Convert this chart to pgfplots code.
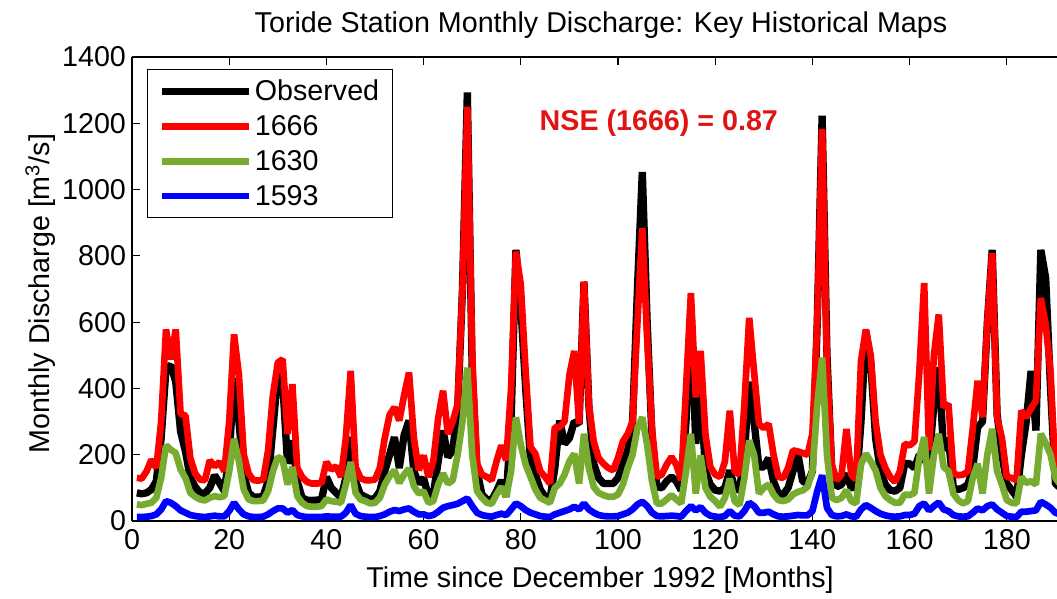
\documentclass[border=0pt]{standalone}
\usepackage{pgfplots}
\usepackage{pgfplotstable}
\pgfplotsset{compat=1.18}
\usepackage{fontspec}
\setmainfont{Liberation Sans}
\definecolor{mgreen}{RGB}{119,172,48}
\definecolor{nsered}{RGB}{225,20,20}
\pgfplotstableread{
m obs r g b
1 85 130 50 12
2 82 128 48 12
3 85 150 52 13
4 95 185 55 15
5 120 160 70 20
6 250 300 130 35
7 460 578 228 60
8 470 488 215 55
9 420 578 205 45
10 270 323 155 32
11 210 318 130 25
12 130 190 85 18
13 103 143 73 15
14 85 125 65 13
15 83 123 62 12
16 100 183 70 14
17 138 165 75 16
18 115 178 72 14
19 90 150 75 14
20 200 300 150 30
21 430 563 248 55
22 300 440 180 35
23 140 200 95 20
24 85 143 65 14
25 72 123 60 12
26 72 122 60 12
27 75 125 62 13
28 120 213 90 20
29 280 380 150 30
30 443 478 193 38
31 420 488 185 38
32 173 263 110 25
33 243 413 163 33
34 120 160 75 18
35 70 133 55 14
36 63 118 45 12
37 62 113 43 12
38 63 113 43 12
39 65 115 45 12
40 133 178 65 14
41 100 155 60 13
42 85 165 58 13
43 70 133 55 13
44 130 250 110 25
45 253 453 178 48
46 120 163 85 22
47 80 130 65 15
48 73 123 60 13
49 65 123 53 12
50 68 125 55 12
51 90 160 70 15
52 150 250 110 20
53 200 320 135 28
54 253 343 153 33
55 160 303 115 30
56 260 380 140 35
57 303 448 158 38
58 150 250 105 28
59 113 153 83 20
60 130 198 90 20
61 73 133 55 15
62 80 180 60 18
63 180 310 110 28
64 273 393 143 40
65 193 263 113 45
66 213 300 123 48
67 333 353 200 52
68 700 700 300 60
69 1293 1250 463 68
70 450 500 200 45
71 150 173 90 25
72 80 140 70 18
73 65 133 55 15
74 63 123 52 13
75 90 180 80 18
76 123 228 103 22
77 73 183 73 18
78 300 400 150 35
79 818 813 313 53
80 650 713 230 45
81 400 450 170 33
82 183 223 133 25
83 140 203 95 20
84 95 150 70 15
85 73 133 62 13
86 65 113 55 12
87 160 283 100 20
88 303 283 113 25
89 233 300 140 30
90 250 440 180 35
91 300 513 203 43
92 293 293 113 35
93 720 723 263 53
94 350 353 160 35
95 173 240 103 25
96 130 190 85 18
97 113 173 78 15
98 113 160 73 14
99 113 153 73 14
100 130 190 80 15
101 170 240 110 20
102 213 263 160 25
103 300 300 200 35
104 700 600 280 50
105 1053 883 313 58
106 600 550 230 45
107 250 280 120 25
108 103 133 53 15
109 100 140 53 14
110 120 170 65 15
111 133 193 78 16
112 120 170 65 15
113 93 123 53 13
114 300 400 150 30
115 650 688 263 45
116 233 373 83 32
117 400 513 198 42
118 150 260 100 25
119 110 163 73 16
120 93 140 60 13
121 90 133 43 12
122 100 180 70 15
123 153 333 128 30
124 100 150 60 16
125 93 140 48 14
126 200 350 130 30
127 420 613 243 55
128 300 450 200 45
129 163 293 83 25
130 163 280 100 25
131 190 293 110 28
132 120 200 80 20
133 83 133 63 14
134 80 130 60 13
135 100 160 65 14
136 150 213 80 16
137 203 210 88 18
138 120 205 92 17
139 113 200 103 17
140 150 263 150 30
141 600 600 350 90
142 1223 1183 493 138
143 500 470 200 40
144 150 170 70 18
145 103 123 63 14
146 110 140 70 15
147 143 278 93 20
148 100 140 60 14
149 103 125 53 13
150 300 483 170 35
151 573 578 203 48
152 480 500 180 40
153 250 300 153 30
154 150 200 100 22
155 110 160 75 17
156 93 133 63 14
157 90 118 55 13
158 100 150 55 14
159 173 233 80 18
160 173 228 78 18
161 160 240 85 22
162 200 450 190 45
163 183 718 253 53
164 183 213 83 32
165 350 500 200 45
166 463 623 263 56
167 213 343 163 35
168 250 353 150 30
169 100 143 83 18
170 95 138 63 14
171 100 140 53 13
172 110 150 60 14
173 160 280 130 25
174 283 423 173 38
175 300 313 83 32
176 600 600 200 45
177 818 808 278 50
178 323 313 150 35
179 200 250 110 25
180 113 133 63 15
181 93 130 55 13
182 73 123 53 12
183 200 333 133 28
184 300 313 115 28
185 453 340 120 30
186 273 363 110 32
187 818 673 263 58
188 733 593 235 50
189 400 450 200 40
190 113 133 130 25
191 100 125 110 20
}\datatable
\begin{document}
\begin{tikzpicture}
\begin{axis}[
  scale only axis,
  width=693.75pt, height=348pt,
  xmin=0, xmax=190.33, ymin=0, ymax=1400,
  axis x line*=box, axis y line*=left,
  tick align=inside,
  major tick length=6pt,
  xtick={0,20,...,180},
  ytick={0,200,...,1400},
  axis line style={line width=0.8pt, black},
  every tick/.style={line width=0.8pt, black},
  font=\fontsize{21.5}{25}\selectfont,
  /pgf/number format/assume math mode=true,
  /pgf/number format/1000 sep={},
  xticklabel style={yshift=-3pt},
  yticklabel style={xshift=-1pt},
  xlabel={Time since December 1992 [Months]},
  ylabel={Monthly Discharge [m\textsuperscript{3}/s]},
  xlabel style={at={(rel axis cs:0.506,0)}, anchor=north, yshift=-31pt},
  ylabel style={at={(rel axis cs:0,0.49)}, anchor=south, yshift=54pt},
  legend style={at={(rel axis cs:0,1)}, anchor=north west, xshift=11.25pt, yshift=-9pt,
    draw=black, line width=0.8pt, font=\fontsize{21.5}{25}\selectfont,
    row sep=5.5pt, inner xsep=8pt, inner ysep=6pt},
  legend cell align=left,
  legend image code/.code={\draw[#1] (0pt,0pt) -- (65pt,0pt);},
  every axis plot/.append style={line join=bevel},
]
\addplot[black, line width=5.5pt] table[x=m, y=obs] {\datatable};
\addlegendentry{Observed}
\addplot[red, line width=5pt] table[x=m, y=r] {\datatable};
\addlegendentry{1666}
\addplot[mgreen, line width=5pt] table[x=m, y=g] {\datatable};
\addlegendentry{1630}
\addplot[blue, line width=5pt] table[x=m, y=b] {\datatable};
\addlegendentry{1593}
\node[text=nsered, font=\fontsize{21.5}{25}\selectfont\bfseries] at (axis cs:108.4,1201) {NSE (1666) = 0.87};
\coordinate (SW) at (rel axis cs:0,0);
\end{axis}
\node[font=\fontsize{21.5}{25}\selectfont] at ([xshift=351.75pt, yshift=372pt]SW) {Toride Station Monthly Discharge: Key Historical Maps};
\pgfresetboundingbox
\path[use as bounding box] ([xshift=-99pt,yshift=-58.5pt]SW) rectangle ([xshift=693.75pt,yshift=390.75pt]SW);
\end{tikzpicture}
\end{document}
